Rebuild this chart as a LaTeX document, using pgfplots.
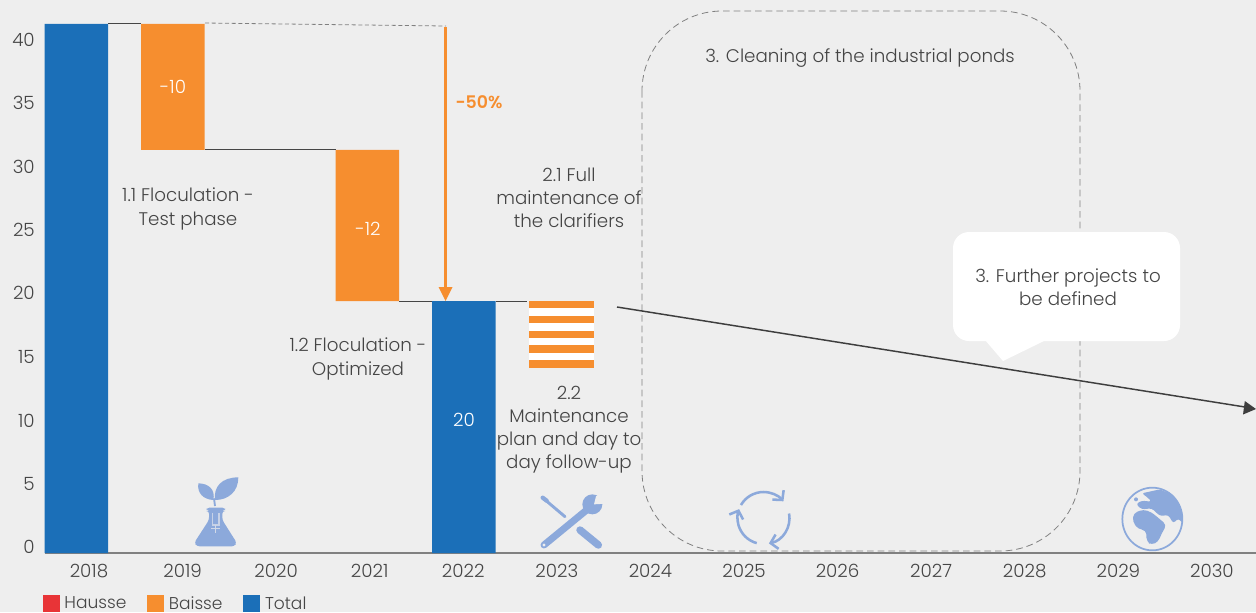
\documentclass[border=0pt]{standalone}
\usepackage{pgfplots}
\pgfplotsset{compat=1.18}
\usepackage{fontspec}
\usetikzlibrary{arrows.meta}
\setmainfont{Poppins Light}
\definecolor{bg}{HTML}{EEEEEE}
\definecolor{blu}{HTML}{1B6FB8}
\definecolor{ora}{HTML}{F68E2F}
\definecolor{rd}{HTML}{E83437}
\definecolor{ico}{HTML}{8CA9DB}
\definecolor{txt}{HTML}{454545}
\begin{document}
\begin{tikzpicture}[x=.75pt,y=-.75pt,font=\fontsize{13.7pt}{17.3pt}\selectfont,text=txt]
\path[fill=bg] (0,0) rectangle (1256,612);
\path[use as bounding box] (0,0) rectangle (1256,612);
\begin{axis}[
  at={(33.75pt,-414.75pt)},anchor=south west,scale only axis,
  width=908.25pt,height=414.75pt,
  xmin=2017.53,xmax=2030.47,ymin=0,ymax=43.89,
  ybar stacked,bar width=47.6pt,
  axis x line=bottom,axis y line=none,
  axis line style={draw=gray,line width=.9pt,-},
  xtick={2018,...,2030},xticklabel style={/pgf/number format/1000 sep={},text=txt,yshift=-2.5pt},
  xtick style={draw=none},
  /pgf/number format/assume math mode=true,
  clip=false,
  legend style={at={(-0.002,-0.074)},anchor=north west,draw=none,fill=none,legend columns=-1,
    font=\fontsize{12.8pt}{14pt}\selectfont,text=txt,
    /tikz/every even column/.append style={column sep=13.5pt},
    /tikz/every odd column/.append style={column sep=2pt},
    inner sep=0pt,outer sep=0pt,legend cell align=left},
  legend image code/.code={\fill[#1] (0pt,-5.5pt) rectangle (12pt,6.5pt);},
]
\addlegendimage{rd}\addlegendentry{Hausse}
\addlegendimage{ora}\addlegendentry{Baisse}
\addlegendimage{blu}\addlegendentry{Total}
\addplot[forget plot,draw=none,fill=none] coordinates {(2017.866,0) (2018.897,32) (2020.975,20) (2022.006,0)};
\addplot[forget plot,draw=none,fill=ora] coordinates {(2017.866,0) (2018.897,10) (2020.975,12) (2022.006,0)};
\addplot[forget plot,draw=none,fill=blu] coordinates {(2017.866,42) (2018.897,0) (2020.975,0) (2022.006,20)};
\end{axis}
\begin{axis}[
  at={(33.75pt,-414.75pt)},anchor=south west,scale only axis,
  width=908.25pt,height=414.75pt,
  xmin=2017.53,xmax=2030.47,ymin=0,ymax=43.89,
  ybar stacked,bar width=48.8pt,axis lines=none,clip=false]
\addplot[draw=none,fill=none] coordinates {(2023.048,14.69)};
\addplot[draw=none,fill=ora] coordinates {(2023.048,0.62)};
\addplot[draw=none,fill=white] coordinates {(2023.048,0.58)};
\addplot[draw=none,fill=ora] coordinates {(2023.048,0.58)};
\addplot[draw=none,fill=white] coordinates {(2023.048,0.58)};
\addplot[draw=none,fill=ora] coordinates {(2023.048,0.58)};
\addplot[draw=none,fill=white] coordinates {(2023.048,0.62)};
\addplot[draw=none,fill=ora] coordinates {(2023.048,0.58)};
\addplot[draw=none,fill=white] coordinates {(2023.048,0.62)};
\addplot[draw=none,fill=ora] coordinates {(2023.048,0.55)};
\end{axis}
% y tick labels
\foreach \v/\p in {40/39.5,35/102.5,30/166.5,25/229.5,20/293,15/356.5,10/420.5,5/483.5,0/546.5}
  \node[anchor=east,inner sep=0pt] at (35,\p) {\v};
% connectors
\draw[txt,line width=.7pt] (108,23.5)--(141,23.5);
\draw[gray,densely dashed,line width=.6pt] (205,23)--(446,26);
\draw[txt,line width=.7pt] (205,149.5)--(336,149.5);
\draw[txt,line width=.7pt] (399,301)--(432,301);
\draw[txt,line width=.7pt] (496,301)--(527,301);
% value labels
\node[text=white] at (173,87) {-10};
\node[text=white] at (368,229) {-12};
\node[text=white] at (464,420) {20};
% arrow
\draw[ora,line width=2.2pt] (445.5,27)--(445.5,290);
\fill[ora] (438.5,287)--(452.5,287)--(445.5,301)--cycle;
\node[text=ora,font=\fontsize{13pt}{16pt}\selectfont\bfseries] at (479,102) {-50\%};
% annotation texts
\node[align=center,inner sep=0pt] at (188,209) {1.1 Floculation -\\Test phase};
\node[align=center,inner sep=0pt] at (358,359) {1.2 Floculation -\\Optimized};
\node[align=center,inner sep=0pt] at (569,198) {2.1 Full\\maintenance of\\the clarifiers};
\node[align=center,inner sep=0pt] at (569,430) {2.2\\Maintenance\\plan and day to\\day follow-up};
\node[inner sep=0pt] at (860,58) {3. Cleaning of the industrial ponds};
% dashed rounded box
\draw[gray,dash pattern=on 5pt off 3pt,line width=.6pt,rounded corners=60pt] (642,11) rectangle (1080,551);
% trend arrow
\draw[txt!90!black,line width=1.1pt] (617,307)--(1245,407);
\fill[txt!90!black] (1256,409)--(1243,414.5)--(1244.8,401)--cycle;
% callout
\fill[white,rounded corners=12pt] (953,232) rectangle (1180,341);
\fill[white] (985,340)--(1003,361)--(1046,340)--cycle;
\node[align=center,inner sep=0pt] at (1068,287) {3. Further projects to\\be defined};
% flask icon
\begin{scope}[shift={(185,470)},x=.25pt,y=-.25pt]
\fill[ico] (85,90) .. controls (55,88) and (36,70) .. (40,40) .. controls (70,40) and (92,58) .. (85,90)--cycle;
\fill[ico] (90,90) .. controls (85,50) and (110,22) .. (160,22) .. controls (160,65) and (130,90) .. (90,90)--cycle;
\draw[ico,line width=1.4pt] (87,85)--(90,108);
\fill[ico,rounded corners=2pt] (65,113)--(120,113)--(120,123)--(112,123)--(112,150)--(155,218)--(148,229)--(36,229)--(28,218)--(72,150)--(72,123)--(65,123)--cycle;
\draw[bg!60!ico,line width=.8pt] (82,128)--(82,165)--(102,165)--(102,128);
\draw[bg!70!ico,line width=.9pt] (78,175)--(106,175) (92,165)--(92,190);
\end{scope}
% tools icon
\begin{scope}[shift={(530,485)},x=.25pt,y=-.25pt]
\draw[ico,line width=2.2pt,line cap=round] (40,40)--(105,95);
\draw[ico,line width=3.2pt,line cap=round] (38,38)--(50,47);
\draw[ico,line width=5.6pt,line cap=round] (150,135)--(205,180);
\draw[ico,line width=5.2pt,line cap=round] (42,180)--(170,75);
\fill[ico] (187,58) circle[radius=30];
\fill[bg] (192,58)--(226,56)--(214,24)--(198,34)--cycle;
\fill[bg] (42,180) circle[radius=5];
\end{scope}
% recycle icon
\begin{scope}[shift={(763.5,518)},x=.75pt,y=-.75pt]
\draw[ico,line width=1.9pt,-{Straight Barb[length=5pt,width=11pt]}] (-150:26) arc[start angle=-150,end angle=-40,radius=26];
\draw[ico,line width=1.9pt,-{Straight Barb[length=5pt,width=11pt]}] (-10:26) arc[start angle=-10,end angle=78,radius=26];
\draw[ico,line width=1.9pt,-{Straight Barb[length=5pt,width=11pt]}] (105:26) arc[start angle=105,end angle=200,radius=26];
\end{scope}
% globe icon
\begin{scope}[shift={(1110,480)},x=.25pt,y=-.25pt]
\draw[ico,line width=1.3pt] (127,117) ellipse[x radius=90,y radius=94];
\fill[ico,rounded corners=2pt] (95,40)--(150,28)--(190,45)--(215,90)--(218,130)--(205,115)--(190,130)--(175,105)--(150,108)--(125,85)--(95,88)--(78,72)--(95,62)--(125,65)--(110,50)--cycle;
\fill[ico] (78,58) circle[radius=6];
\fill[ico,rounded corners=3pt] (70,100)--(100,88)--(125,97)--(150,118)--(170,135)--(155,160)--(145,185)--(125,195)--(110,185)--(108,150)--(85,148)--(68,125)--cycle;
\end{scope}
\end{tikzpicture}
\end{document}
